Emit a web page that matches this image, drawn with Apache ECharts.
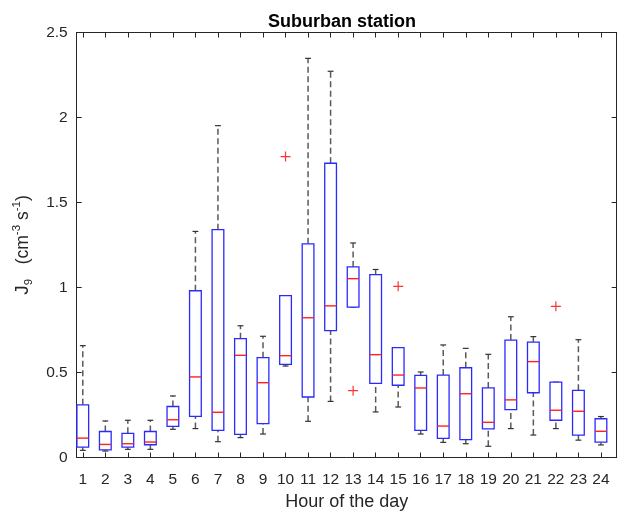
<!DOCTYPE html>
<html>
<head>
<meta charset="utf-8">
<title>Suburban station</title>
<script src="https://cdn.jsdelivr.net/npm/echarts@6/dist/echarts.min.js"></script>
<style>
  html, body { margin: 0; padding: 0; background: #fff; }
  #chart { width: 619px; height: 520px; }
</style>
</head>
<body>
<div id="chart"></div>
<script>
// Hour of the day (1..24)
const hours = [1, 2, 3, 4, 5, 6, 7, 8, 9, 10, 11, 12, 13, 14, 15, 16, 17, 18, 19, 20, 21, 22, 23, 24];

// Box statistics of J9 (cm^-3 s^-1) per hour
const whiskerLow  = [0.042, 0.038, 0.048, 0.048, 0.166, 0.170, 0.093, 0.117, 0.138, 0.538, 0.213, 0.330, 0.885, 0.268, 0.297, 0.138, 0.089, 0.081, 0.066, 0.170, 0.132, 0.170, 0.102, 0.074];
const quartile1   = [0.061, 0.045, 0.061, 0.075, 0.183, 0.242, 0.160, 0.136, 0.199, 0.548, 0.356, 0.746, 0.885, 0.436, 0.425, 0.160, 0.113, 0.105, 0.168, 0.282, 0.381, 0.219, 0.132, 0.090];
const medians     = [0.114, 0.077, 0.081, 0.091, 0.222, 0.474, 0.266, 0.601, 0.440, 0.599, 0.822, 0.892, 1.052, 0.605, 0.485, 0.409, 0.185, 0.375, 0.207, 0.339, 0.564, 0.278, 0.272, 0.154];
const quartile3   = [0.310, 0.153, 0.142, 0.153, 0.300, 0.981, 1.340, 0.699, 0.587, 0.952, 1.257, 1.731, 1.121, 1.076, 0.646, 0.483, 0.485, 0.528, 0.409, 0.691, 0.679, 0.443, 0.395, 0.228];
const whiskerHigh = [0.658, 0.215, 0.219, 0.219, 0.362, 1.330, 1.952, 0.775, 0.713, 0.952, 2.348, 2.272, 1.262, 1.106, 0.646, 0.503, 0.662, 0.642, 0.607, 0.828, 0.711, 0.443, 0.693, 0.241];

// Outliers
const outlierHours  = [10, 13, 15, 22];
const outlierValues = [1.770, 0.393, 1.007, 0.889];

// Y axis ticks
const yTicks = [0, 0.5, 1, 1.5, 2, 2.5];

const FONT = "'Liberation Sans', Arial, Helvetica, sans-serif";
const TXT = '#262626';

const boxData = hours.map((h, i) => [h, whiskerLow[i], quartile1[i], medians[i], quartile3[i], whiskerHigh[i]]);
const outlierData = outlierHours.map((h, i) => [h, outlierValues[i]]);

function renderBox(params, api) {
  const x = api.value(0);
  const lo = api.coord([x, api.value(1)]);
  const q1 = api.coord([x, api.value(2)]);
  const md = api.coord([x, api.value(3)]);
  const q3 = api.coord([x, api.value(4)]);
  const hi = api.coord([x, api.value(5)]);
  const half = api.size([0.52, 0])[0] / 2;
  const cap = half / 2;
  const cx = q1[0];
  const dashStyle = { stroke: '#5a5a5a', lineWidth: 1.5, lineDash: [6, 3.5] };
  const capStyle = { stroke: '#333', lineWidth: 1.2 };
  return {
    type: 'group',
    children: [
      { type: 'line', shape: { x1: cx, y1: q3[1], x2: cx, y2: hi[1] }, style: dashStyle },
      { type: 'line', shape: { x1: cx, y1: lo[1], x2: cx, y2: q1[1] }, style: dashStyle },
      { type: 'line', shape: { x1: cx - cap, y1: hi[1], x2: cx + cap, y2: hi[1] }, style: capStyle },
      { type: 'line', shape: { x1: cx - cap, y1: lo[1], x2: cx + cap, y2: lo[1] }, style: capStyle },
      { type: 'rect', shape: { x: cx - half, y: q3[1], width: half * 2, height: q1[1] - q3[1] },
        style: { fill: '#fff', stroke: '#2a2aff', lineWidth: 1.3 } },
      { type: 'line', shape: { x1: cx - half, y1: md[1], x2: cx + half, y2: md[1] },
        style: { stroke: '#ff2020', lineWidth: 1.4 } }
    ]
  };
}

const chart = echarts.init(document.getElementById('chart'), null, { renderer: 'canvas' });

const xCommon = {
  type: 'value',
  min: 0.73,
  max: 24.7,
  splitLine: { show: false },
  axisLine: { show: true, onZero: false, lineStyle: { color: TXT, width: 1 } },
  axisTick: { show: true, inside: true, length: 5, customValues: hours, lineStyle: { color: TXT } }
};
const yCommon = {
  type: 'value',
  min: 0,
  max: 2.5,
  interval: 0.5,
  splitLine: { show: false },
  axisLine: { show: true, onZero: false, lineStyle: { color: TXT, width: 1 } },
  axisTick: { show: true, inside: true, length: 5, lineStyle: { color: TXT } }
};

chart.setOption({
  animation: false,
  backgroundColor: '#fff',
  textStyle: { fontFamily: FONT },
  title: {
    text: 'Suburban station',
    left: 337,
    textAlign: 'center',
    top: 8,
    textStyle: { fontFamily: FONT, fontSize: 18, fontWeight: 'bold', color: '#000' }
  },
  grid: { left: 76.7, right: 2.3, top: 32.5, bottom: 62.5, containLabel: false },
  xAxis: [
    Object.assign({}, xCommon, {
      position: 'bottom',
      name: 'Hour of the day',
      nameLocation: 'middle',
      nameGap: 36,
      nameTextStyle: { fontFamily: FONT, fontSize: 18, color: TXT },
      axisLabel: { customValues: hours, fontFamily: FONT, fontSize: 15.5, color: TXT, margin: 14 }
    }),
    Object.assign({}, xCommon, { position: 'top', axisLabel: { show: false } })
  ],
  yAxis: [
    Object.assign({}, yCommon, {
      position: 'left',
      name: '{j|J}{sub|9}{t|   (cm}{sup|-3}{t| s}{sup|-1}{t|)}',
      nameLocation: 'middle',
      nameRotate: 90,
      nameGap: 42,
      nameTextStyle: {
        fontFamily: FONT, color: TXT,
        rich: {
          j:   { fontFamily: FONT, fontSize: 19, lineHeight: 24, color: TXT },
          t:   { fontFamily: FONT, fontSize: 17.5, lineHeight: 24, color: TXT },
          sub: { fontFamily: FONT, fontSize: 11.5, lineHeight: 14, verticalAlign: 'bottom', color: TXT },
          sup: { fontFamily: FONT, fontSize: 11.5, lineHeight: 12, verticalAlign: 'top', color: TXT }
        }
      },
      axisLabel: { customValues: yTicks, fontFamily: FONT, fontSize: 15.5, color: TXT, margin: 9 }
    }),
    Object.assign({}, yCommon, { position: 'right', axisLabel: { show: false } })
  ],
  series: [
    {
      type: 'custom',
      name: 'J9',
      xAxisIndex: 0,
      yAxisIndex: 0,
      renderItem: renderBox,
      encode: { x: 0, y: [1, 2, 3, 4, 5] },
      data: boxData,
      z: 2
    },
    {
      type: 'scatter',
      name: 'Outliers',
      xAxisIndex: 0,
      yAxisIndex: 0,
      symbol: 'path://M4.4,0 H5.6 V10 H4.4 Z M0,4.4 H10 V5.6 H0 Z',
      symbolSize: 10,
      itemStyle: { color: '#ff0000' },
      data: outlierData,
      z: 3
    }
  ]
});
</script>
</body>
</html>
